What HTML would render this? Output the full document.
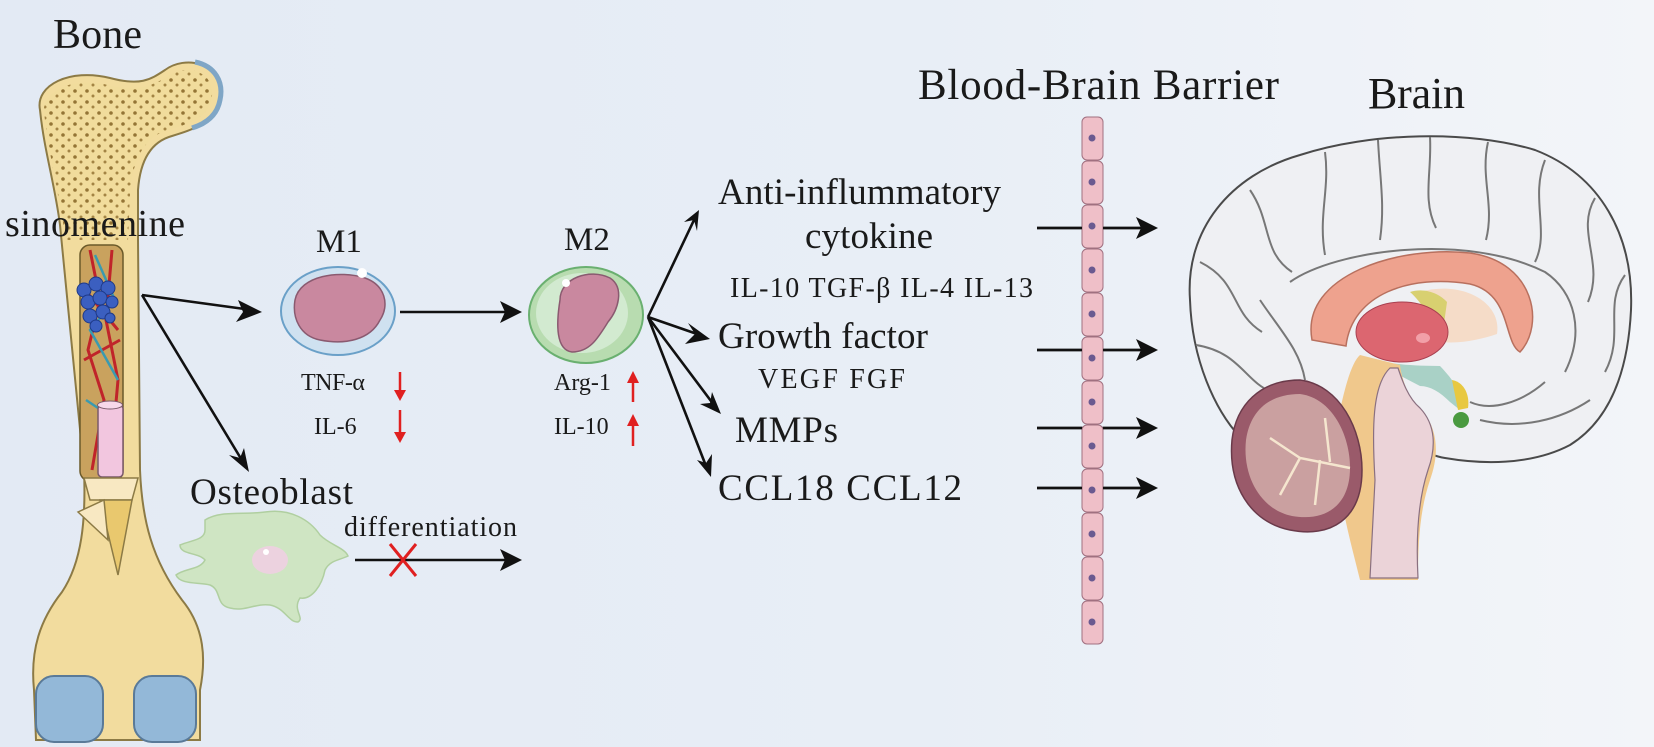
<!DOCTYPE html>
<html><head><meta charset="utf-8"><style>
html,body{margin:0;padding:0;}
body{width:1654px;height:747px;overflow:hidden;background:linear-gradient(90deg,#e3eaf4 0%,#e8eef6 55%,#f3f5f9 100%);}
svg{display:block;}
text{font-family:"Liberation Serif",serif;fill:#1a1a1a;}
</style></head><body>
<svg width="1654" height="747" viewBox="0 0 1654 747" xmlns="http://www.w3.org/2000/svg">
<defs>
<pattern id="dots" width="12" height="11" patternUnits="userSpaceOnUse">
<rect width="12" height="11" fill="#f1dc9c"/>
<circle cx="3" cy="3" r="1.8" fill="#8a6a2a"/><circle cx="9" cy="8" r="1.5" fill="#9a7a3a"/>
</pattern>
</defs>

<!-- Titles -->
<text x="53" y="48" font-size="42" textLength="89">Bone</text>
<text x="918" y="99" font-size="43" textLength="361">Blood-Brain Barrier</text>
<text x="1368" y="108" font-size="44" textLength="97">Brain</text>

<!-- Bone -->
<path d="M40 110 C35 85 70 68 110 78 C140 86 150 80 165 70 C185 55 222 62 220 95 C218 122 192 130 172 136 C150 142 140 162 138 190 L138 240 L140 470 C142 520 152 560 182 600 C205 628 206 660 200 690 L200 740 L36 740 L34 690 C30 650 40 620 62 592 C82 562 86 520 84 470 L60 225 C55 185 44 150 40 110 Z" fill="#f2dc9e" stroke="#8c7a45" stroke-width="2"/>
<path d="M44 112 C42 92 72 76 108 85 C138 92 152 86 168 76 C186 64 214 70 212 96 C210 118 188 124 168 130 C146 136 132 158 130 195 L128 240 L66 240 C60 200 48 150 44 112 Z" fill="url(#dots)" opacity="0.9"/>
<path d="M195 62 C215 66 224 82 220 100 C217 116 205 124 192 128" fill="none" stroke="#7fa6c6" stroke-width="5"/>
<rect x="80" y="245" width="43" height="236" rx="10" fill="#c9a25e" stroke="#6b5a2a" stroke-width="1.5"/>
<path d="M90 250 L100 300 L88 350 L104 400 L92 470 M112 250 L106 320 L118 380 L110 470 M85 290 L118 330 M84 360 L120 340" stroke="#c0242a" stroke-width="3" fill="none"/>
<path d="M95 255 L115 300 L90 330 L118 380 M86 400 L116 420" stroke="#3a9ab0" stroke-width="2.5" fill="none"/>
<g fill="#3b5fc0" stroke="#1f3a88" stroke-width="1">
<circle cx="84" cy="290" r="7"/><circle cx="96" cy="284" r="7"/><circle cx="108" cy="288" r="7"/><circle cx="88" cy="302" r="7"/><circle cx="100" cy="298" r="7"/><circle cx="112" cy="302" r="6"/><circle cx="90" cy="316" r="7"/><circle cx="103" cy="312" r="7"/><circle cx="96" cy="326" r="6"/><circle cx="110" cy="318" r="5"/>
</g>
<rect x="98" y="405" width="25" height="72" rx="4" fill="#f2c6df" stroke="#7a5a6a" stroke-width="1.5"/>
<ellipse cx="110" cy="405" rx="12.5" ry="4" fill="#f7d8ea" stroke="#7a5a6a" stroke-width="1"/>
<path d="M84 478 L138 478 L132 500 L90 500 Z" fill="#f8e8c2" stroke="#8c7a45" stroke-width="1.5"/>
<path d="M100 500 L132 500 L118 575 Z" fill="#e9c86e" stroke="#8c7a45" stroke-width="1.5"/>
<path d="M78 512 L104 500 L108 540 Z" fill="#f8e8c2" stroke="#8c7a45" stroke-width="1.5"/>
<rect x="36" y="676" width="67" height="66" rx="18" fill="#93b8d8" stroke="#5a7a98" stroke-width="2"/>
<rect x="134" y="676" width="62" height="66" rx="18" fill="#93b8d8" stroke="#5a7a98" stroke-width="2"/>
<text x="5" y="236" font-size="38" textLength="180">sinomenine</text>

<!-- arrows -->
<g stroke="#111" stroke-width="2.6" fill="none">
<line x1="142" y1="295" x2="252" y2="310"/>
<line x1="142" y1="295" x2="243" y2="462"/>
<line x1="400" y1="312" x2="510" y2="312"/>
<line x1="648" y1="317" x2="694" y2="220"/>
<line x1="648" y1="317" x2="700" y2="335"/>
<line x1="648" y1="317" x2="714" y2="405"/>
<line x1="648" y1="317" x2="706" y2="466"/>
<line x1="355" y1="560" x2="508" y2="560"/>
<line x1="1037" y1="228" x2="1145" y2="228"/>
<line x1="1037" y1="350" x2="1145" y2="350"/>
<line x1="1037" y1="428" x2="1145" y2="428"/>
<line x1="1037" y1="488" x2="1145" y2="488"/>
</g>
<g fill="#111">
<polygon points="262,312 238,300 243,312 236,322"/>
<polygon points="249,472 229,455 240,458 244,448"/>
<polygon points="522,312 500,301 505,312 500,323"/>
<polygon points="699,210 684,222 694,220 697,231"/>
<polygon points="710,339 688,323 695,334 685,344"/>
<polygon points="721,414 700,404 710,403 712,392"/>
<polygon points="711,477 697,460 706,463 712,454"/>
<polygon points="522,560 500,549 505,560 500,571"/>
<polygon points="1158,228 1136,217 1141,228 1136,239"/>
<polygon points="1158,350 1136,339 1141,350 1136,361"/>
<polygon points="1158,428 1136,417 1141,428 1136,439"/>
<polygon points="1158,488 1136,477 1141,488 1136,499"/>
</g>

<!-- M1 -->
<text x="316" y="252" font-size="33">M1</text>
<ellipse cx="338" cy="311" rx="57" ry="44" fill="#cfe1f0" stroke="#6aa0c8" stroke-width="2"/>
<path d="M295 300 C300 275 340 270 365 278 C385 285 390 305 380 320 C370 340 345 345 320 340 C300 336 292 318 295 300 Z" fill="#c9889f" stroke="#8a5a70" stroke-width="1.5"/>
<circle cx="362" cy="273" r="5" fill="#fff"/>
<text x="301" y="390" font-size="24" textLength="64">TNF-α</text>
<text x="314" y="434" font-size="24">IL-6</text>
<g stroke="#e02020" stroke-width="2.5" fill="#e02020">
<line x1="400" y1="372" x2="400" y2="392"/><polygon points="394,390 406,390 400,401" stroke="none"/>
<line x1="400" y1="410" x2="400" y2="434"/><polygon points="394,432 406,432 400,443" stroke="none"/>
<line x1="633" y1="382" x2="633" y2="402"/><polygon points="627,383 639,383 633,371" stroke="none"/>
<line x1="633" y1="425" x2="633" y2="446"/><polygon points="627,426 639,426 633,414" stroke="none"/>
</g>

<!-- M2 -->
<text x="564" y="250" font-size="33">M2</text>
<ellipse cx="586" cy="315" rx="57" ry="48" fill="#b8dcb0" stroke="#6ab070" stroke-width="2"/>
<ellipse cx="582" cy="313" rx="46" ry="40" fill="#d2ead0"/>
<path d="M560 300 C560 278 590 268 610 278 C625 288 618 310 608 322 C598 338 590 352 572 352 C556 350 556 325 560 300 Z" fill="#c9889f" stroke="#8a5a70" stroke-width="1.5"/>
<circle cx="566" cy="283" r="4" fill="#fff"/>
<text x="554" y="390" font-size="24">Arg-1</text>
<text x="554" y="434" font-size="24">IL-10</text>

<!-- Osteoblast -->
<text x="190" y="504" font-size="37" textLength="163">Osteoblast</text>
<path d="M205 520 C220 510 245 515 265 512 C290 508 310 520 320 535 C330 545 345 548 348 556 C340 560 330 560 325 570 C322 585 312 600 300 598 C292 610 305 618 298 622 C288 622 285 608 270 605 C255 603 245 612 230 608 C215 605 222 590 210 585 C200 582 180 585 176 575 C185 568 200 570 205 560 C198 552 180 555 180 545 C192 540 205 540 205 530 Z" fill="#cfe5c3" stroke="#b0cfa0" stroke-width="1.5"/>
<ellipse cx="270" cy="560" rx="18" ry="14" fill="#ecd2df"/>
<circle cx="266" cy="552" r="3" fill="#fff"/>
<text x="344" y="536" font-size="28" textLength="173">differentiation</text>
<g stroke="#e02020" stroke-width="3"><line x1="390" y1="544" x2="416" y2="576"/><line x1="416" y1="544" x2="390" y2="576"/></g>

<!-- middle texts -->
<text x="718" y="204" font-size="37" textLength="283">Anti-inflummatory</text>
<text x="805" y="248" font-size="37" textLength="128">cytokine</text>
<text x="730" y="297" font-size="28" textLength="303">IL-10 TGF-β  IL-4  IL-13</text>
<text x="718" y="348" font-size="37" textLength="210">Growth factor</text>
<text x="758" y="388" font-size="28" textLength="147">VEGF  FGF</text>
<text x="735" y="442" font-size="37" textLength="103">MMPs</text>
<text x="718" y="500" font-size="37" textLength="244">CCL18  CCL12</text>

<!-- BBB column -->
<g fill="#efbfc8" stroke="#a07080">
<rect x="1082" y="117" width="21" height="43" rx="5"/><rect x="1082" y="161" width="21" height="43" rx="5"/><rect x="1082" y="205" width="21" height="43" rx="5"/><rect x="1082" y="249" width="21" height="43" rx="5"/><rect x="1082" y="293" width="21" height="43" rx="5"/><rect x="1082" y="337" width="21" height="43" rx="5"/><rect x="1082" y="381" width="21" height="43" rx="5"/><rect x="1082" y="425" width="21" height="43" rx="5"/><rect x="1082" y="469" width="21" height="43" rx="5"/><rect x="1082" y="513" width="21" height="43" rx="5"/><rect x="1082" y="557" width="21" height="43" rx="5"/><rect x="1082" y="601" width="21" height="43" rx="5"/>
</g>
<g fill="#6a5a90">
<circle cx="1092" cy="138" r="3.5"/><circle cx="1092" cy="182" r="3.5"/><circle cx="1092" cy="226" r="3.5"/><circle cx="1092" cy="270" r="3.5"/><circle cx="1092" cy="314" r="3.5"/><circle cx="1092" cy="358" r="3.5"/><circle cx="1092" cy="402" r="3.5"/><circle cx="1092" cy="446" r="3.5"/><circle cx="1092" cy="490" r="3.5"/><circle cx="1092" cy="534" r="3.5"/><circle cx="1092" cy="578" r="3.5"/><circle cx="1092" cy="622" r="3.5"/>
</g>
<g stroke="#111" stroke-width="2.6">
<line x1="1037" y1="228" x2="1082" y2="228"/><line x1="1103" y1="228" x2="1140" y2="228"/>
<line x1="1037" y1="350" x2="1082" y2="350"/><line x1="1103" y1="350" x2="1140" y2="350"/>
<line x1="1037" y1="428" x2="1082" y2="428"/><line x1="1103" y1="428" x2="1140" y2="428"/>
<line x1="1037" y1="488" x2="1082" y2="488"/><line x1="1103" y1="488" x2="1140" y2="488"/>
</g>

<!-- Brain -->
<path d="M1190 300 C1185 230 1230 175 1300 155 C1370 132 1470 130 1535 150 C1600 175 1634 235 1631 310 C1628 372 1610 420 1570 445 C1530 466 1480 464 1445 458 C1425 455 1420 445 1400 440 L1240 437 C1215 410 1192 360 1190 300 Z" fill="#eff0f3" stroke="#4a4a4a" stroke-width="2"/>
<g fill="none" stroke="#777" stroke-width="2">
<path d="M1325 152 C1330 190 1318 215 1325 255"/><path d="M1378 140 C1380 180 1385 205 1380 240"/><path d="M1430 137 C1432 172 1422 200 1436 228"/><path d="M1488 142 C1480 178 1495 205 1486 240"/><path d="M1545 160 C1530 198 1550 232 1535 262"/><path d="M1595 198 C1575 232 1605 262 1588 302"/><path d="M1625 275 C1603 305 1625 335 1605 372"/><path d="M1250 190 C1272 222 1262 252 1292 272"/><path d="M1200 262 C1240 282 1230 312 1262 332"/><path d="M1196 345 C1240 352 1245 382 1272 392"/><path d="M1290 282 C1335 250 1465 232 1545 272 C1575 292 1585 332 1565 372"/><path d="M1545 382 C1522 402 1492 412 1470 402"/><path d="M1260 300 C1280 330 1300 350 1305 380"/><path d="M1480 420 C1520 430 1560 420 1590 400"/>
</g>
<path d="M1312 340 C1300 275 1400 245 1470 253 C1535 262 1545 325 1520 352 C1503 342 1512 294 1470 284 C1410 274 1352 294 1346 346 Z" fill="#eea28e" stroke="#b8705e" stroke-width="1.5"/>
<path d="M1420 292 C1462 280 1502 302 1497 334 C1482 339 1462 344 1442 342 Z" fill="#f5dcc8"/>
<path d="M1410 292 C1425 287 1440 294 1447 302 L1442 338 C1432 322 1422 302 1410 292 Z" fill="#d8d070"/>
<ellipse cx="1402" cy="332" rx="46" ry="30" fill="#dc6670" stroke="#a84050" stroke-width="1"/>
<ellipse cx="1423" cy="338" rx="7" ry="5" fill="#f2a0a8"/>
<path d="M1370 360 C1385 362 1400 366 1440 366 C1455 382 1462 392 1460 410 L1450 402 C1440 392 1430 386 1420 386 Z" fill="#a9d1c6"/>
<path d="M1452 380 C1464 382 1470 395 1468 408 L1458 410 Z" fill="#e8c840"/>
<circle cx="1461" cy="420" r="8" fill="#4a9a40"/>
<path d="M1360 355 C1352 362 1345 385 1338 420 C1330 460 1345 520 1355 560 L1360 580 L1418 580 C1418 540 1420 510 1430 480 C1438 458 1440 432 1422 410 C1408 398 1402 380 1400 365 Z" fill="#f0c88c"/>
<path d="M1390 368 C1372 385 1372 430 1375 480 L1370 578 L1418 578 C1416 540 1418 500 1428 470 C1436 448 1436 425 1420 408 C1408 398 1402 380 1398 368 Z" fill="#ebd3d8" stroke="#8a7080" stroke-width="1.2"/>
<path d="M1232 440 C1228 485 1250 522 1290 530 C1330 538 1362 520 1362 470 C1362 430 1340 385 1300 380 C1260 380 1236 405 1232 440 Z" fill="#9a5a6a" stroke="#6a3a4a" stroke-width="1.5"/>
<path d="M1246 440 C1242 478 1262 510 1292 516 C1326 522 1350 505 1350 468 C1350 435 1332 398 1300 394 C1268 394 1250 412 1246 440 Z" fill="#caa0a0"/>
<g stroke="#f5e6cf" stroke-width="2.5" fill="none"><path d="M1350 468 L1300 458 L1270 438 M1300 458 L1280 495 M1320 460 L1315 505 M1330 462 L1325 418"/></g>
</svg>
</body></html>
